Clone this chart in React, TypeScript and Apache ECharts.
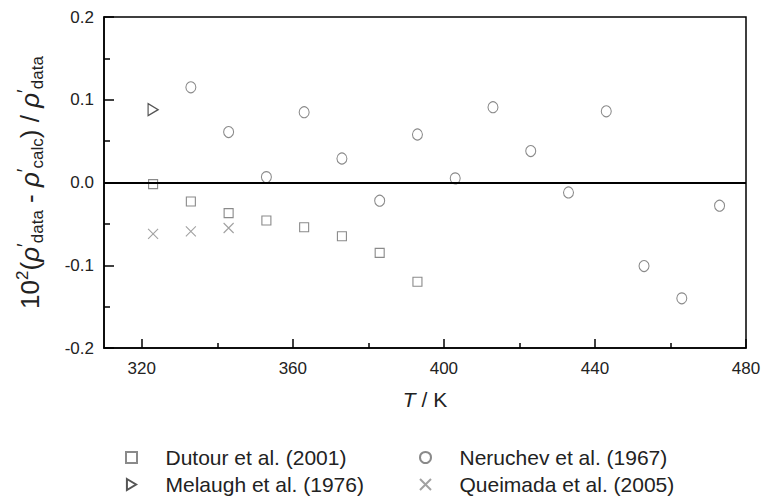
import React, { useEffect, useRef } from "react";
import * as echarts from "echarts";

const dutourT = [323, 333, 343, 353, 363, 373, 383, 393];
const dutourDev = [-0.002, -0.023, -0.037, -0.046, -0.054, -0.065, -0.085, -0.12];

const neruchevT = [333, 343, 353, 363, 373, 383, 393, 403, 413, 423, 433, 443, 453, 463, 473];
const neruchevDev = [0.115, 0.061, 0.0065, 0.085, 0.029, -0.022, 0.058, 0.005, 0.091, 0.038, -0.012, 0.086, -0.101, -0.14, -0.028];

const melaughT = [323];
const melaughDev = [0.088];

const queimadaT = [323, 333, 343];
const queimadaDev = [-0.062, -0.059, -0.055];

const xMajorTicks = [320, 360, 400, 440, 480];
const xMinorTicks = [340, 380, 420, 460];

const FONT = "'Liberation Sans', Arial, sans-serif";
const GRAY = "#8a8a8a";

function zip(xs: number[], ys: number[]) {
  return xs.map((x, i) => [x, ys[i]]);
}

export default function App() {
  const ref = useRef<HTMLDivElement>(null);
  useEffect(() => {
    if (!ref.current) return;
    const chart = echarts.init(ref.current, null, { renderer: "svg" });
    const hollow = (c: string, w = 1.1) => ({ color: "#fff", borderColor: c, borderWidth: w, opacity: 1 });
    const legendText = { fontSize: 21, color: "#222", fontFamily: FONT, padding: [0, 0, 0, 22] };
    chart.setOption({
      animation: false,
      textStyle: { fontFamily: FONT },
      grid: {
        left: 104,
        right: 17,
        top: 17,
        bottom: 149,
        outerBoundsMode: "none",
        containLabel: false,
        show: true,
        borderColor: "#000",
        borderWidth: 1.5,
        backgroundColor: "transparent",
      },
      xAxis: [
        {
          type: "value",
          min: 310,
          max: 480,
          axisLine: { show: true, onZero: false, lineStyle: { color: "#000", width: 1.5 } },
          axisTick: { show: true, inside: true, length: 9, customValues: xMajorTicks, lineStyle: { color: "#000", width: 1.5 } },
          axisLabel: { customValues: xMajorTicks, color: "#222", fontSize: 17, margin: 12, fontFamily: FONT },
          splitLine: { show: false },
          name: "{i|T}{n| / K}",
          nameLocation: "middle",
          nameGap: 41,
          nameMoveOverlap: false,
          nameTextStyle: {
            rich: {
              i: { fontSize: 21, fontStyle: "italic", color: "#222", fontFamily: FONT },
              n: { fontSize: 21, color: "#222", fontFamily: FONT },
            },
          },
        },
        {
          type: "value",
          min: 310,
          max: 480,
          position: "bottom",
          axisLine: { show: false, onZero: false },
          axisTick: { show: true, inside: true, length: 5, customValues: xMinorTicks, lineStyle: { color: "#000", width: 1.5 } },
          axisLabel: { show: false },
          splitLine: { show: false },
        },
      ],
      yAxis: {
        type: "value",
        min: -0.2,
        max: 0.2,
        interval: 0.1,
        axisLine: { show: true, onZero: false, lineStyle: { color: "#000", width: 1.5 } },
        axisTick: { show: true, inside: true, length: 10, lineStyle: { color: "#000", width: 1.5 } },
        minorTick: { show: true, splitNumber: 2, length: 6, lineStyle: { color: "#000", width: 1.5 } },
        axisLabel: {
          color: "#222",
          fontSize: 17,
          margin: 10,
          fontFamily: FONT,
          formatter: (v: number) => v.toFixed(1),
        },
        splitLine: { show: false },
        name:
          "{n|10}{sup|2}{n|(}{i|ρ}{pr|′}{sub|data}{n| - }{i|ρ}{pr|′}{sub|calc}{n|) / }{i|ρ}{pr|′}{sub|data}",
        nameLocation: "middle",
        nameGap: 58,
        nameMoveOverlap: false,
        nameTextStyle: {
          rich: {
            n: { fontSize: 26, color: "#222", fontFamily: FONT, lineHeight: 32, verticalAlign: "middle" },
            i: { fontSize: 26, fontStyle: "italic", color: "#222", fontFamily: FONT, lineHeight: 32, verticalAlign: "middle" },
            pr: { fontSize: 20, color: "#222", fontFamily: FONT, lineHeight: 20, verticalAlign: "top" },
            sup: { fontSize: 17, color: "#222", fontFamily: FONT, lineHeight: 18, verticalAlign: "top" },
            sub: { fontSize: 17, color: "#222", fontFamily: FONT, lineHeight: 18, verticalAlign: "bottom" },
          },
        },
      },
      legend: [
        {
          orient: "vertical",
          left: 125,
          top: 447,
          padding: 0,
          itemWidth: 14,
          itemHeight: 11,
          itemGap: 6,
          textStyle: legendText,
          data: ["Dutour et al. (2001)", "Melaugh et al. (1976)"],
        },
        {
          orient: "vertical",
          left: 419,
          top: 447,
          padding: 0,
          itemWidth: 14,
          itemHeight: 11,
          itemGap: 6,
          textStyle: legendText,
          data: ["Neruchev et al. (1967)", "Queimada et al. (2005)"],
        },
      ],
      series: [
        {
          name: "zero",
          type: "line",
          data: [],
          silent: true,
          markLine: {
            silent: true,
            symbol: ["none", "none"],
            label: { show: false },
            lineStyle: { color: "#000", width: 2, type: "solid" },
            data: [{ yAxis: 0 }],
          },
          z: 1,
        },
        {
          name: "Dutour et al. (2001)",
          type: "scatter",
          symbol: "path://M0,0 L10,0 L10,10 L0,10 Z",
          symbolSize: 9,
          itemStyle: hollow(GRAY),
          data: zip(dutourT, dutourDev),
          z: 3,
        },
        {
          name: "Melaugh et al. (1976)",
          type: "scatter",
          symbol: "path://M0,0 L10,6 L0,12 Z",
          symbolSize: [10, 12],
          itemStyle: hollow("#555", 1.3),
          data: zip(melaughT, melaughDev),
          z: 3,
        },
        {
          name: "Neruchev et al. (1967)",
          type: "scatter",
          symbol: "circle",
          symbolSize: [10, 11],
          symbolKeepAspect: false,
          itemStyle: hollow(GRAY),
          data: zip(neruchevT, neruchevDev),
          z: 3,
        },
        {
          name: "Queimada et al. (2005)",
          type: "scatter",
          symbol: "path://M0,0 L10,10 M10,0 L0,10",
          symbolSize: 10,
          itemStyle: { color: "transparent", borderColor: GRAY, borderWidth: 1.1 },
          data: zip(queimadaT, queimadaDev),
          z: 3,
        },
      ],
    });
    return () => chart.dispose();
  }, []);
  return <div ref={ref} style={{ width: 763, height: 497, position: "absolute", left: 0, top: 0 }} />;
}
